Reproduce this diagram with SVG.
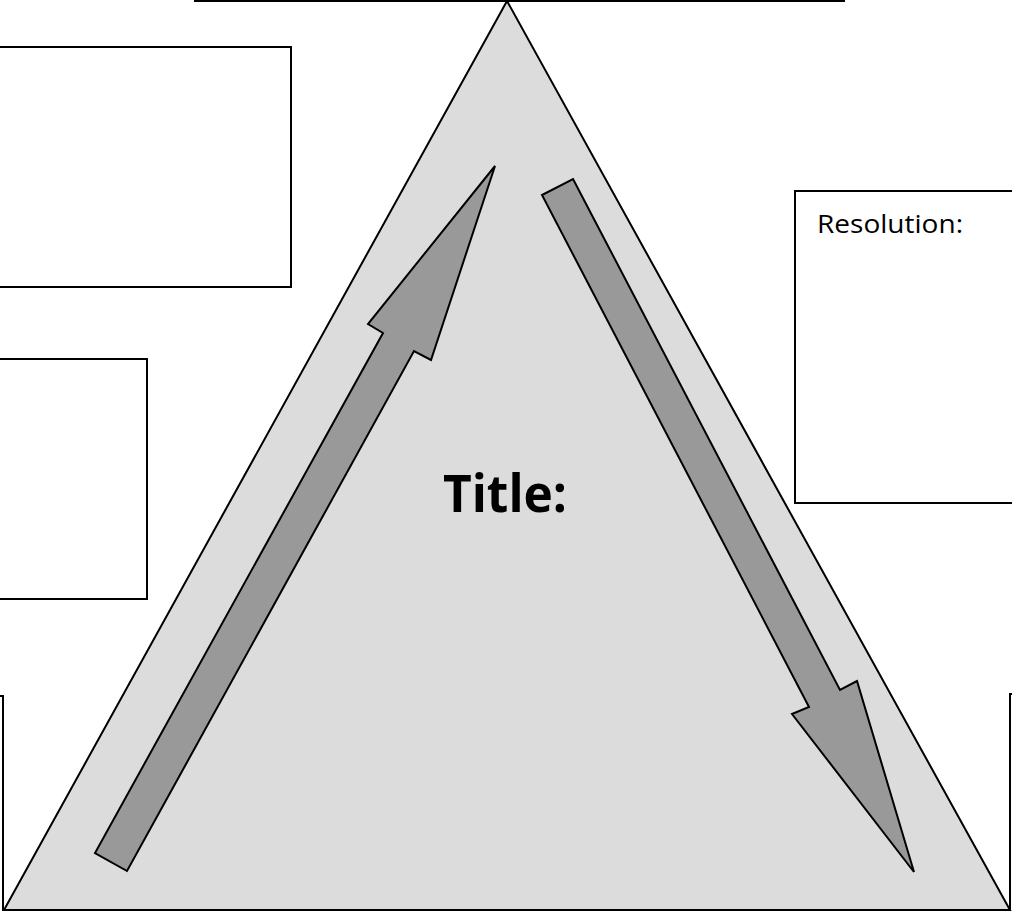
<svg xmlns="http://www.w3.org/2000/svg" width="1012" height="912" viewBox="0 0 1012 912">
<style>
.box{fill:#ffffff;stroke:#000000;stroke-width:2}
.tri{fill:#dcdcdc;stroke:#000000;stroke-width:2;stroke-linejoin:miter}
.arrow{fill:#999999;stroke:#000000;stroke-width:2;stroke-linejoin:miter}
.line{fill:none;stroke:#000000;stroke-width:2}
.lbl{font-family:"Open Sans","Liberation Sans",sans-serif;fill:#000000}
</style>
<rect width="1012" height="912" fill="#ffffff"/>
<g id="top-box">
<line class="line" x1="194" y1="1" x2="845" y2="1" stroke="#444444"/>
</g>
<g id="box-left-top">
<rect class="box" x="-5" y="47" width="296" height="240"/>
</g>
<g id="box-left-middle">
<rect class="box" x="-5" y="359" width="152" height="240"/>
</g>
<g id="box-bottom-left">
<polyline class="line" points="-5,696 3,696 3,911"/>
</g>
<g id="box-bottom-right">
<polyline class="line" points="1017,694 1010,694 1010,911"/>
</g>
<g id="box-resolution">
<rect class="box" x="795" y="191" width="225" height="312"/>
<text class="lbl" x="817" y="233" font-size="26" textLength="146" lengthAdjust="spacingAndGlyphs">Resolution:</text>
</g>
<g id="triangle">
<polygon class="tri" points="507,1 4,910 1010,910"/>
<text class="lbl" x="443" y="512" font-size="52" font-weight="bold" textLength="124" lengthAdjust="spacingAndGlyphs">Title:</text>
</g>
<g id="connectors">
<polygon class="arrow" points="495,166 431,360 414,351 127,871 95,853 383,333 368,324"/>
<polygon class="arrow" points="573,179 840,690 857,681 914,872 792,714 809,707 542,195"/>
</g>
</svg>
